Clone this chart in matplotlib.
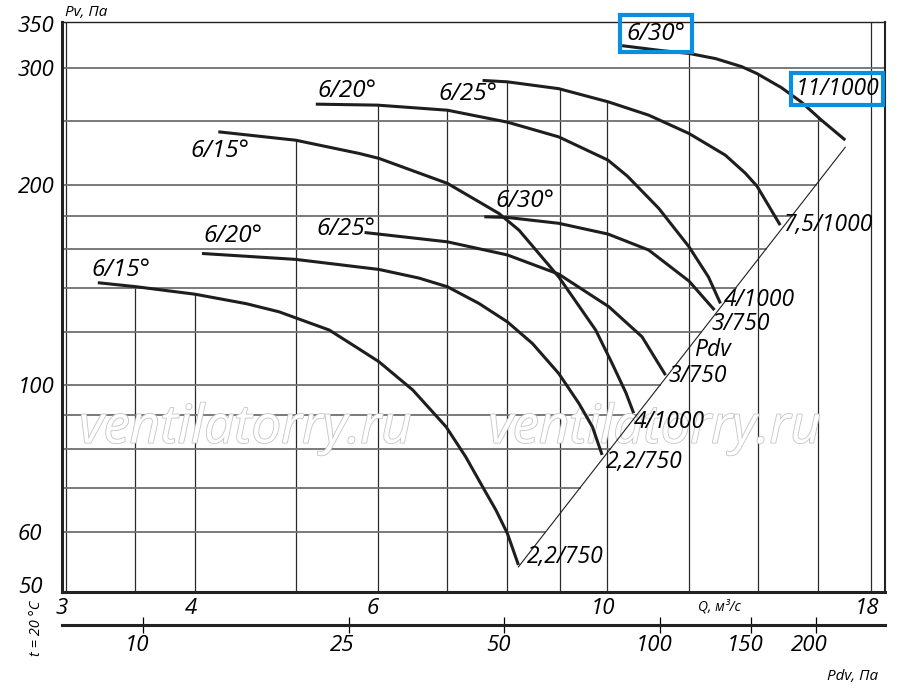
import numpy as np
import matplotlib
matplotlib.use('Agg')
import matplotlib.pyplot as plt
from matplotlib import patheffects as pe
from matplotlib import transforms
from matplotlib.ticker import FixedLocator, NullLocator

plt.rcParams['font.family'] = ['Open Sans', 'DejaVu Sans']
plt.rcParams['font.style'] = 'italic'

# Pdv = K_DYN * Q^2 (dynamic pressure line / lower scale)
K_DYN = 0.79

# smaller motor group
q_s15 = [3.22, 3.51, 4.0, 4.48, 4.82, 5.39, 5.76, 6.02, 6.49, 6.99, 7.30, 7.58, 7.81, 8.01, 8.21]
p_s15 = [142.6, 140.6, 137.0, 132.6, 128.9, 121.0, 113.3, 108.4, 98.3, 86.5, 78.0, 70.3, 64.8, 59.8, 53.6]
q_s20 = [4.06, 5.0, 6.02, 6.58, 7.01, 7.52, 8.01, 8.47, 8.98, 9.39, 9.68, 9.89]
p_s20 = [157.8, 154.6, 149.3, 144.9, 140.6, 132.7, 124.5, 115.5, 104.1, 93.9, 86.5, 78.5]
q_s25 = [5.83, 7.01, 8.01, 8.98, 10.04, 10.81, 11.39]
p_s25 = [169.7, 164.3, 157.0, 146.9, 131.2, 118.2, 103.5]
q_s30 = [7.61, 8.01, 8.98, 10.02, 10.97, 12.0, 12.7]
p_s30 = [179.2, 178.8, 175.2, 168.8, 159.7, 143.4, 129.7]

# bigger motor group
q_b15 = [4.21, 5.0, 5.76, 6.02, 7.01, 7.86, 8.22, 8.98, 9.75, 10.11, 10.43, 10.61]
p_b15 = [240.6, 233.7, 223.2, 219.4, 201.2, 181.3, 171.1, 145.5, 121.0, 107.9, 97.3, 90.7]
q_b20 = [5.23, 6.0, 7.01, 8.01, 8.98, 10.02, 10.46, 11.22, 12.0, 12.53, 12.87]
p_b20 = [264.8, 263.9, 259.3, 248.8, 236.4, 218.1, 206.4, 184.5, 161.5, 145.5, 132.7]
q_b25 = [7.58, 8.01, 8.98, 10.02, 10.97, 12.0, 13.01, 13.6, 13.96, 14.7]
p_b25 = [287.5, 286.1, 279.4, 267.0, 254.9, 239.2, 221.9, 208.5, 199.3, 174.1]
q_b30 = [10.34, 11.29, 12.0, 12.73, 13.49, 13.96, 14.74, 15.41, 16.11, 16.99]
p_b30 = [324.3, 318.8, 315.7, 310.1, 301.6, 294.4, 280.4, 266.7, 250.6, 233.8]

angle_labels = ['6/15°', '6/20°', '6/25°', '6/30°', '6/15°', '6/20°', '6/25°', '6/30°']
motor_labels = ['2,2/750', '2,2/750', '3/750', '3/750', '4/1000', '4/1000', '7,5/1000', '11/1000']

x_ticks = [3, 4, 6, 10, 18]
y_ticks = [50, 60, 100, 200, 300, 350]
pdv_ticks = [10, 25, 50, 100, 150, 200]
x_grid = [3, 3.5, 4, 5, 6, 7, 8, 9, 10, 12, 14, 16, 18]
y_grid = [60, 70, 80, 90, 100, 120, 140, 160, 180, 200, 250, 300]

curves = [(q_s15, p_s15), (q_s20, p_s20), (q_s25, p_s25), (q_s30, p_s30),
          (q_b15, p_b15), (q_b20, p_b20), (q_b25, p_b25), (q_b30, p_b30)]

# label offsets in pixels (start label centre, end label left edge)
start_off = [(23, 13), (31, 17), (-19, 4), (41, 16), (2, -19), (31, 13), (-15, -14), (34, 12)]
end_off = [(8, 8), (4, -7), (3, -1), (-3, -14), (0, -9), (3, 3), (3, 0), (-50, 51)]
boxed = [7]

XMIN, XMAX = 2.975, 18.56
YMIN, YMAX = 48.8, 352

fig = plt.figure(figsize=(9, 6.93), dpi=100)
ax = fig.add_axes([0.0692, 0.1457, 0.9141, 0.8225])
ax.set_xscale('log')
ax.set_yscale('log')
ax.set_xlim(XMIN, XMAX)
ax.set_ylim(YMIN, YMAX)


def top_of_curves(qv):
    vals = []
    for q, p in curves:
        if q[0] <= qv <= q[-1]:
            vals.append(10 ** np.interp(np.log10(qv), np.log10(q), np.log10(p)))
    return max(vals) if vals else YMAX


# vertical grid: from bottom up to the upper envelope
for qv in x_grid:
    ax.plot([qv, qv], [YMIN, top_of_curves(qv)], color='#2a2a2a', lw=0.9, zorder=1)

# horizontal grid: from left up to the Pdv line
lq30, lp30 = np.log10(q_b30), np.log10(p_b30)
for pv in y_grid:
    if pv >= 300:
        q_end = XMAX
    else:
        q_end = np.sqrt(pv / K_DYN)
        if p_b30[-1] <= pv <= p_b30[0]:
            q_on = 10 ** np.interp(np.log10(pv), lp30[::-1], lq30[::-1])
            q_end = min(q_end, q_on)
    ax.plot([XMIN, q_end], [pv, pv], color='#707070', lw=1.3, zorder=1)

# watermark
for xw in [0.2226, 0.720]:
    ax.text(xw, 0.262, 'ventilatorry.ru', transform=ax.transAxes, fontsize=38,
            ha='center', va='baseline', color='white', zorder=2,
            path_effects=[pe.withStroke(linewidth=1.2, foreground='#c4c4c4')])

# Pdv line through curve ends
q_line = np.array([q_s15[-1], q_b30[-1]])
ax.plot(q_line, K_DYN * q_line ** 2, color='#1e1e1e', lw=0.8, zorder=3)
ax.text(12.65, 112.9, 'Pdv', fontsize=16.5, ha='center', va='center', zorder=5)

box_kw = dict(boxstyle='square,pad=0.28', fc='none', ec='#0a8ee0', lw=3)
for i, (q, p) in enumerate(curves):
    ax.plot(q, p, color='#1e1e1e', lw=2.2, solid_capstyle='butt',
            solid_joinstyle='round', zorder=4)
    ax.annotate(angle_labels[i], (q[0], p[0]), xytext=start_off[i],
                textcoords='offset pixels', ha='center', va='center', fontsize=17.5,
                bbox=box_kw if i in boxed else None, zorder=5)
    ax.annotate(motor_labels[i], (q[-1], p[-1]), xytext=end_off[i],
                textcoords='offset pixels', ha='left', va='center', fontsize=16.5,
                bbox=dict(box_kw, boxstyle='square,pad=0.18') if i in boxed else None,
                zorder=5)

ax.xaxis.set_major_locator(FixedLocator(x_ticks))
ax.xaxis.set_minor_locator(NullLocator())
ax.set_xticklabels([str(v) for v in x_ticks])
ax.yaxis.set_major_locator(FixedLocator(y_ticks))
ax.yaxis.set_minor_locator(NullLocator())
ax.set_yticklabels([str(v) for v in y_ticks])
ax.tick_params(axis='x', length=0, pad=4, labelsize=16)
ax.tick_params(axis='y', length=0, pad=32, labelsize=16)
for lab in ax.get_yticklabels():
    lab.set_horizontalalignment('left')
shift = transforms.ScaledTranslation(-0.045, 0, fig.dpi_scale_trans)
for lab in ax.get_xticklabels():
    lab.set_transform(lab.get_transform() + shift)

ax.spines['left'].set_linewidth(2.2)
ax.spines['bottom'].set_linewidth(2.2)
ax.spines['top'].set_linewidth(1.0)
ax.spines['right'].set_linewidth(1.5)
for s in ax.spines.values():
    s.set_color('#222222')

# lower scale of dynamic pressure
ax2 = fig.add_axes([0.0692, 0.0981, 0.9141, 0.0001])
ax2.set_xscale('log')
ax2.set_xlim(K_DYN * XMIN ** 2, K_DYN * XMAX ** 2)
ax2.set_yticks([])
for s in ['top', 'left', 'right']:
    ax2.spines[s].set_visible(False)
ax2.spines['bottom'].set_linewidth(2.2)
ax2.spines['bottom'].set_color('#222222')
ax2.xaxis.set_major_locator(FixedLocator(pdv_ticks))
ax2.xaxis.set_minor_locator(NullLocator())
ax2.set_xticklabels([str(v) for v in pdv_ticks])
ax2.tick_params(axis='x', direction='inout', length=12, width=0.9, pad=1, labelsize=16)
ax2.patch.set_visible(False)
shift2 = transforms.ScaledTranslation(-0.06, 0, fig.dpi_scale_trans)
for lab in ax2.get_xticklabels():
    lab.set_transform(lab.get_transform() + shift2)

fig.text(65 / 900, 1 - 12 / 693, 'Pv, Па', fontsize=11, ha='left', va='center')
fig.text(698 / 900, 1 - 607 / 693, 'Q, м³/с', fontsize=10, ha='left', va='center')
fig.text(827 / 900, 1 - 677 / 693, 'Pdv, Па', fontsize=11, ha='left', va='center')
fig.text(37 / 900, 1 - 628 / 693, 't = 20 °C', fontsize=10.5, rotation=90,
         ha='center', va='center')

fig.savefig('out.png', dpi=100)
